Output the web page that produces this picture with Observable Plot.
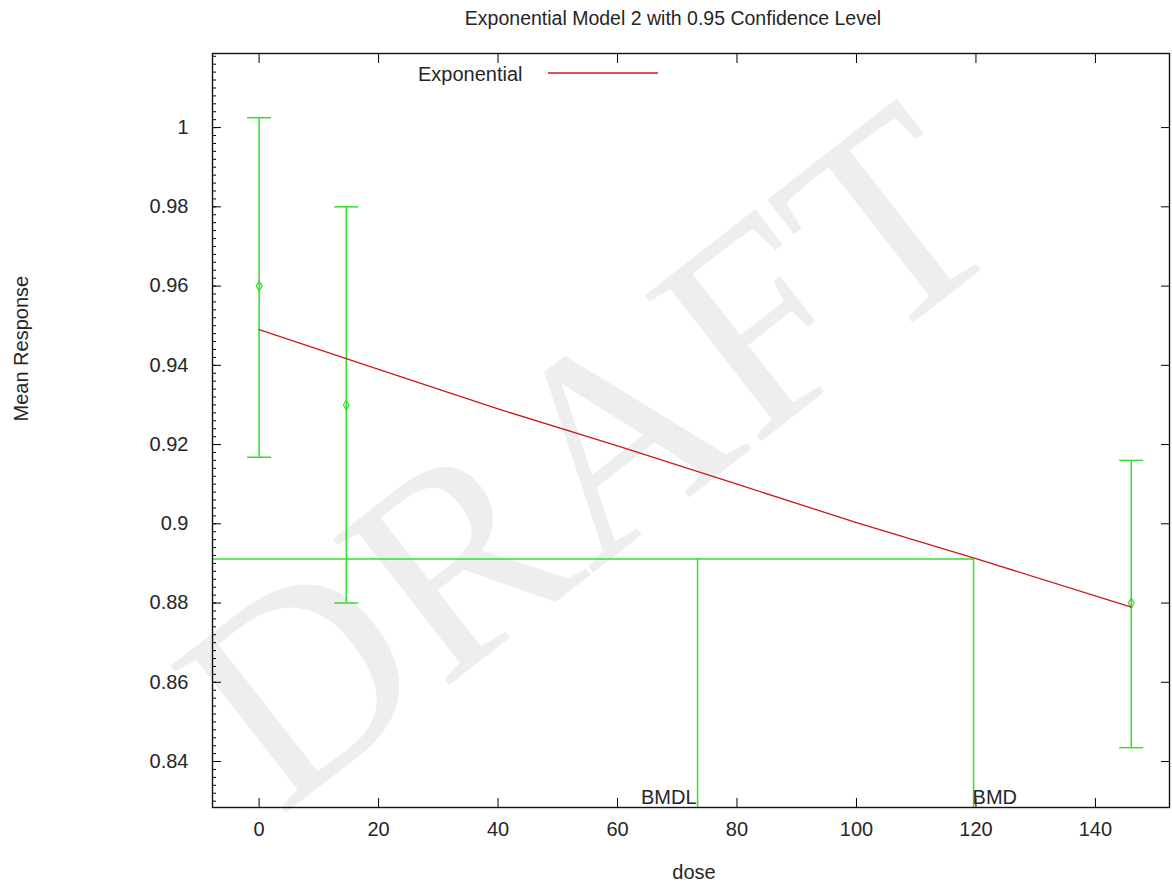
<!DOCTYPE html>
<html><head><meta charset="utf-8">
<script src="https://cdn.jsdelivr.net/npm/d3@7"></script>
<script src="https://cdn.jsdelivr.net/npm/@observablehq/plot@0.6"></script>
<style>body{margin:0;background:#fff;} svg{display:block}</style>
</head><body><div id="chart"></div>
<script>
// ---- data ----
const titleText = "Exponential Model 2 with 0.95 Confidence Level";
const xLabel = "dose";
const yLabel = "Mean Response";
const legendLabel = "Exponential";
const watermark = "DRAFT";
const doses = [0, 14.6, 146];
const means = [0.96, 0.93, 0.88];
const lower = [0.9168, 0.88, 0.8435];
const upper = [1.0025, 0.98, 0.916];
const fitDoses = [0, 20, 40, 60, 80, 100, 120, 146];
const fitValues = [0.949, 0.939, 0.929, 0.9197, 0.910, 0.9003, 0.8912, 0.879];
const bmdl = 73.4;
const bmd = 119.6;
const bmrLevel = 0.8911;
const markerLabels = ["BMDL", "BMD"];
const xTicks = [0, 20, 40, 60, 80, 100, 120, 140];
const yTicks = [0.84, 0.86, 0.88, 0.9, 0.92, 0.94, 0.96, 0.98, 1];
const yMinorTicks = d3.range(415, 510).map(i => +(i * 0.002).toFixed(3));
const xDomain = [-7.8, 152.4];
const yDomain = [0.8284, 1.0187];

// ---- styling ----
const green = "#33dd33", red = "#cc1818", ink = "#262626";
const errData = doses.map((d, i) => ({dose: d, mean: means[i], lo: lower[i], hi: upper[i]}));
const fitData = fitDoses.map((d, i) => ({dose: d, value: fitValues[i]}));
const cap = {draw(ctx, size) { const w = Math.sqrt(size / Math.PI); ctx.moveTo(-w, 0); ctx.lineTo(w, 0); }};
const font = "'Liberation Sans', Arial, sans-serif";

const plot = Plot.plot({
  width: 1172, height: 883,
  marginLeft: 212, marginRight: 3, marginTop: 53, marginBottom: 76,
  style: {fontFamily: font, fontSize: "20px", color: ink, background: "#fff"},
  x: {domain: xDomain},
  y: {domain: yDomain},
  marks: [
    Plot.text([watermark], {frameAnchor: "middle", dx: -100, dy: 28, rotate: -38, fontSize: 285, fontFamily: "'Liberation Serif', serif", fill: "#eeeeee"}),
    Plot.axisY(yTicks, {anchor: "left", tickSize: 0, tickPadding: 24, tickFormat: d => String(d), label: null, fill: ink, fontSize: 20}),
    Plot.axisY(yTicks, {anchor: "left", tickSize: -9, text: null, label: null, stroke: "#000"}),
    Plot.axisY(yMinorTicks, {anchor: "left", tickSize: -4, text: null, label: null, stroke: "#000"}),
    Plot.axisY(yTicks, {anchor: "right", tickSize: -9, text: null, label: null, stroke: "#000"}),
    Plot.axisX(xTicks, {anchor: "bottom", tickSize: 0, tickPadding: 14, tickFormat: d => String(d), label: null, fill: ink, fontSize: 20}),
    Plot.axisX(xTicks, {anchor: "bottom", tickSize: -9, text: null, label: null, stroke: "#000"}),
    Plot.axisX(xTicks, {anchor: "top", tickSize: -9, text: null, label: null, stroke: "#000"}),
    Plot.ruleY([bmrLevel], {x1: xDomain[0], x2: bmd, stroke: green, strokeWidth: 1.5}),
    Plot.ruleX([bmdl, bmd], {y1: yDomain[0], y2: bmrLevel, stroke: green, strokeWidth: 1.5}),
    Plot.ruleX(errData, {x: "dose", y1: "lo", y2: "hi", stroke: green, strokeWidth: 1.5}),
    Plot.dot(errData, {x: "dose", y: "hi", symbol: cap, r: 12, stroke: green, strokeWidth: 1.5}),
    Plot.dot(errData, {x: "dose", y: "lo", symbol: cap, r: 12, stroke: green, strokeWidth: 1.5}),
    Plot.dot(errData, {x: "dose", y: "mean", symbol: "diamond", r: 3, stroke: green, fill: "none", strokeWidth: 1.2}),
    Plot.line(fitData, {x: "dose", y: "value", stroke: red, strokeWidth: 1.3}),
    Plot.text([{x: bmdl, label: markerLabels[0]}], {x: "x", y: () => yDomain[0], text: "label", textAnchor: "end", lineAnchor: "bottom", dy: -4, dx: -1, fill: ink, fontSize: 20}),
    Plot.text([{x: bmd, label: markerLabels[1]}], {x: "x", y: () => yDomain[0], text: "label", textAnchor: "start", lineAnchor: "bottom", dy: -4, dx: -1, fill: ink, fontSize: 20}),
    Plot.text([titleText], {frameAnchor: "top", dy: -35, dx: -18, lineAnchor: "middle", fill: ink, fontSize: 19.5}),
    Plot.text([xLabel], {frameAnchor: "bottom", dy: 65, dx: 3, lineAnchor: "middle", fill: ink, fontSize: 20}),
    Plot.text([yLabel], {frameAnchor: "left", dx: -191, dy: -9, rotate: -90, lineAnchor: "middle", fill: ink, fontSize: 20}),
    Plot.text([legendLabel], {frameAnchor: "top-left", dx: 310, dy: 21, textAnchor: "end", lineAnchor: "middle", fill: ink, fontSize: 20}),
    Plot.frame({stroke: "#111", strokeWidth: 1.4})
  ]
});
document.getElementById("chart").appendChild(plot);
// legend swatch line
d3.select(plot).append("line")
  .attr("x1", 548).attr("x2", 658).attr("y1", 73).attr("y2", 73)
  .attr("stroke", red).attr("stroke-width", 1.5);
</script>
</body></html>
